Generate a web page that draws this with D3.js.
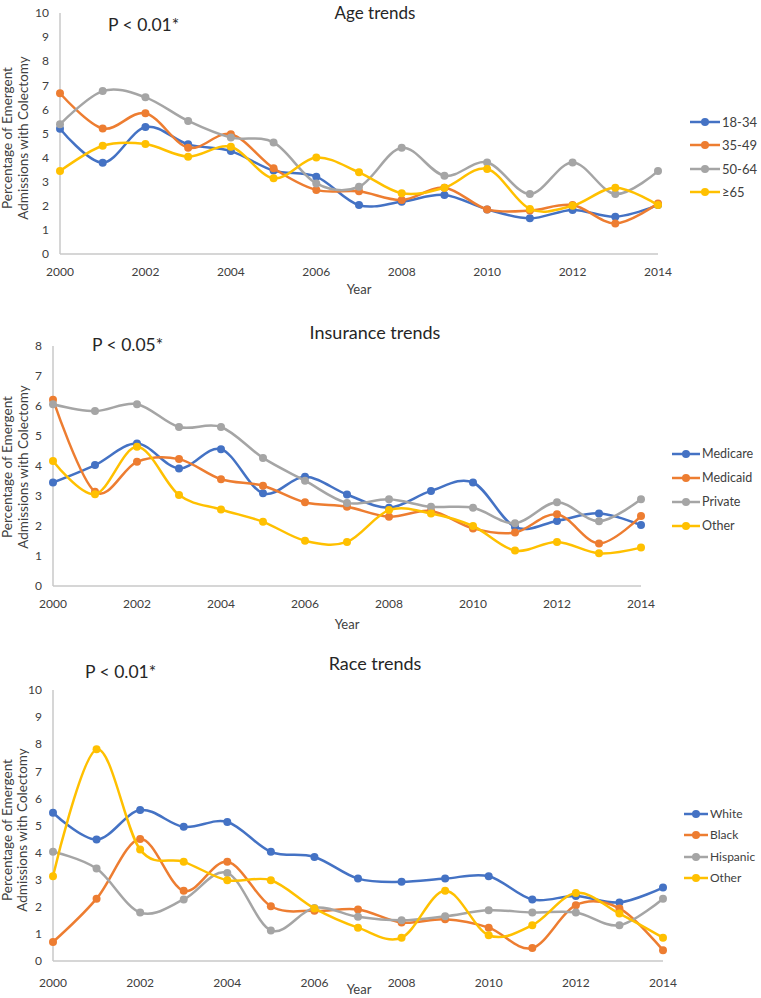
<!DOCTYPE html>
<html><head><meta charset="utf-8">
<script src="https://cdn.jsdelivr.net/npm/d3@7"></script>
<style>
body{margin:0;background:#fff}
svg{display:block}
text{font-family:Lato,"Liberation Sans",sans-serif}
</style>
</head><body>
<svg id="chart" width="761" height="998"></svg>
<script>
// ---------- DATA ----------
const years = [2000,2001,2002,2003,2004,2005,2006,2007,2008,2009,2010,2011,2012,2013,2014];
const yearTicks = [2000,2002,2004,2006,2008,2010,2012,2014];
const seriesColors = ["#4472C4","#ED7D31","#A5A5A5","#FFC000"];

// Age trends
const ageTitle = "Age trends";
const agePLabel = "P < 0.01*";
const ageGroups = ["18-34","35-49","50-64","≥65"];
const age18to34 = [5.2,3.79,5.27,4.55,4.27,3.46,3.21,2.03,2.17,2.45,1.85,1.48,1.83,1.55,2.03];
const age35to49 = [6.67,5.21,5.84,4.41,4.97,3.56,2.66,2.6,2.24,2.75,1.85,1.8,2.03,1.27,2.1];
const age50to64 = [5.38,6.76,6.5,5.52,4.83,4.63,2.93,2.79,4.41,3.25,3.8,2.49,3.8,2.49,3.44];
const age65plus = [3.44,4.49,4.56,4.04,4.45,3.14,4.0,3.39,2.52,2.75,3.53,1.87,2.0,2.75,2.03];
const ageYTicks = [0,1,2,3,4,5,6,7,8,9,10];

// Insurance trends
const insTitle = "Insurance trends";
const insPLabel = "P < 0.05*";
const insGroups = ["Medicare","Medicaid","Private","Other"];
const insMedicare = [3.45,4.03,4.75,3.92,4.56,3.09,3.64,3.05,2.61,3.17,3.45,1.97,2.17,2.42,2.03];
const insMedicaid = [6.21,3.14,4.14,4.23,3.56,3.34,2.79,2.64,2.31,2.5,1.92,1.78,2.39,1.42,2.33];
const insPrivate  = [6.06,5.83,6.06,5.3,5.3,4.27,3.51,2.77,2.89,2.64,2.61,2.09,2.79,2.16,2.89];
const insOther    = [4.17,3.06,4.64,3.03,2.55,2.14,1.51,1.47,2.53,2.42,2.0,1.18,1.47,1.09,1.28];
const insYTicks = [0,1,2,3,4,5,6,7,8];

// Race trends
const raceTitle = "Race trends";
const racePLabel = "P < 0.01*";
const raceGroups = ["White","Black","Hispanic","Other"];
const raceWhite    = [5.47,4.48,5.57,4.95,5.13,4.03,3.84,3.04,2.92,3.04,3.13,2.27,2.4,2.16,2.71];
const raceBlack    = [0.7,2.3,4.5,2.59,3.66,2.02,1.85,1.9,1.42,1.54,1.23,0.48,2.06,1.94,0.4];
const raceHispanic = [4.03,3.41,1.79,2.27,3.25,1.13,1.96,1.63,1.5,1.65,1.87,1.79,1.79,1.32,2.3];
const raceOther    = [3.13,7.81,4.11,3.66,2.98,2.98,1.94,1.23,0.86,2.59,0.95,1.32,2.51,1.75,0.86];
const raceYTicks = [0,1,2,3,4,5,6,7,8,9,10];

const yTitleLines = ["Percentage of Emergent","Admissions with Colectomy"];
const xTitle = "Year";

// ---------- LAYOUT ----------
const charts = [
  { title: ageTitle, pLabel: agePLabel, groups: ageGroups,
    values: [age18to34, age35to49, age50to64, age65plus], yTicks: ageYTicks,
    x0: 60, x1: 658, yTop: 13, yBot: 254, titleY: 19, titleFont: 17, pX: 108, pY: 31,
    xLabDy: 22, xTitleX: 359, xTitleY: 294, yTitleCY: 138, yTitleX: [12, 28],
    legX: 690, legLen: 30, legY: [122,145,169,192], legFont: 13 },
  { title: insTitle, pLabel: insPLabel, groups: insGroups,
    values: [insMedicare, insMedicaid, insPrivate, insOther], yTicks: insYTicks,
    x0: 53, x1: 641, yTop: 346, yBot: 586, titleY: 339, titleFont: 18, pX: 92, pY: 351,
    xLabDy: 22, xTitleX: 347, xTitleY: 629, yTitleCY: 467, yTitleX: [12, 28],
    legX: 672, legLen: 28, legY: [454,478,502,526], legFont: 12.5 },
  { title: raceTitle, pLabel: racePLabel, groups: raceGroups,
    values: [raceWhite, raceBlack, raceHispanic, raceOther], yTicks: raceYTicks,
    x0: 53, x1: 663, yTop: 690, yBot: 961, titleY: 670, titleFont: 18, pX: 85, pY: 678,
    xLabDy: 26, xTitleX: 359, xTitleY: 994, yTitleCY: 830, yTitleX: [12, 27],
    legX: 684, legLen: 24, legY: [814,835,857,878], legFont: 12 }
];

const svg = d3.select("#chart");

charts.forEach(c => {
  const g = svg.append("g");
  const yMax = d3.max(c.yTicks);
  const x = d3.scaleLinear().domain([years[0], years[years.length-1]]).range([c.x0, c.x1]);
  const y = d3.scaleLinear().domain([0, yMax]).range([c.yBot, c.yTop]);

  g.append("text").attr("x", 375).attr("y", c.titleY).attr("text-anchor","middle")
    .attr("font-size", c.titleFont).attr("fill","#262626").text(c.title);
  g.append("text").attr("x", c.pX).attr("y", c.pY)
    .attr("font-size", 17.5).attr("fill","#262626").text(c.pLabel);

  g.append("line").attr("x1", c.x0).attr("x2", c.x1).attr("y1", y(0)).attr("y2", y(0))
    .attr("stroke","#C8C8C8").attr("stroke-width",1.5);
  g.append("line").attr("x1", c.x0).attr("x2", c.x0).attr("y1", y(0)).attr("y2", y(yMax))
    .attr("stroke","#C8C8C8").attr("stroke-width",1.5);

  g.selectAll(".yt").data(c.yTicks).enter().append("text")
    .attr("x", c.x0 - 11).attr("y", d => y(d)).attr("dy","0.35em")
    .attr("text-anchor","end").attr("font-size", 12).attr("fill","#404040").text(d => d);
  g.selectAll(".xt").data(yearTicks).enter().append("text")
    .attr("x", d => x(d)).attr("y", y(0) + c.xLabDy)
    .attr("text-anchor","middle").attr("font-size", 12).attr("fill","#404040").text(d => d);

  g.append("text").attr("x", c.xTitleX).attr("y", c.xTitleY).attr("text-anchor","middle")
    .attr("font-size", 13).attr("fill","#404040").text(xTitle);
  yTitleLines.forEach((t, i) => {
    g.append("text")
      .attr("transform", `translate(${c.yTitleX[i]},${c.yTitleCY}) rotate(-90)`)
      .attr("text-anchor","middle").attr("font-size", 13.5).attr("fill","#404040").text(t);
  });

  const line = d3.line().x((d,i) => x(years[i])).y(d => y(d)).curve(d3.curveCatmullRom.alpha(0));
  c.values.forEach((vals, si) => {
    const col = seriesColors[si];
    g.append("path").attr("d", line(vals)).attr("fill","none")
      .attr("stroke", col).attr("stroke-width", 2.5);
    g.selectAll(null).data(vals).enter().append("circle")
      .attr("cx", (d,i) => x(years[i])).attr("cy", d => y(d)).attr("r", 4).attr("fill", col);
  });

  c.groups.forEach((name, si) => {
    const ly = c.legY[si];
    const col = seriesColors[si];
    g.append("line").attr("x1", c.legX).attr("x2", c.legX + c.legLen).attr("y1", ly).attr("y2", ly)
      .attr("stroke", col).attr("stroke-width", 2.5);
    g.append("circle").attr("cx", c.legX + c.legLen/2).attr("cy", ly).attr("r", 4).attr("fill", col);
    g.append("text").attr("x", c.legX + c.legLen + 2).attr("y", ly).attr("dy","0.35em")
      .attr("font-size", c.legFont).attr("fill","#404040").text(name);
  });
});
</script>
</body></html>
